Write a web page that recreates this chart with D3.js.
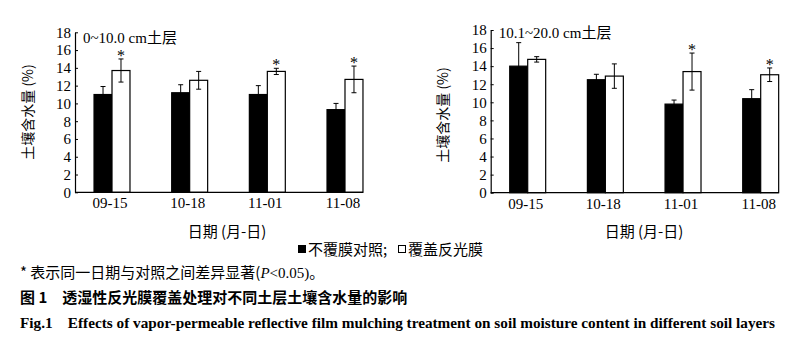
<!DOCTYPE html>
<html><head><meta charset="utf-8">
<script src="https://cdn.jsdelivr.net/npm/d3@7"></script>
<style>body{margin:0;background:#fff}svg{display:block}</style>
</head><body>
<svg id="c" width="800" height="344"></svg>
<script>
const dates = ["09-15","10-18","11-01","11-08"];
const yTicks = [0,2,4,6,8,10,12,14,16,18];
// Layer 0~10.0 cm
const ck1 = [11.0, 11.2, 11.0, 9.3];
const ck1Err = [0.9, 0.9, 1.0, 0.7];
const film1 = [13.7, 12.6, 13.6, 12.7];
const film1Err = [1.3, 1.0, 0.35, 1.5];
const sig1 = [true, false, true, true];
// Layer 10.1~20.0 cm
const ck2 = [14.0, 12.5, 9.8, 10.4];
const ck2Err = [2.6, 0.6, 0.45, 1.0];
const film2 = [14.75, 12.9, 13.4, 13.05];
const film2Err = [0.3, 1.35, 2.05, 0.75];
const sig2 = [false, false, true, true];

const svg = d3.select("#c");
const serif = "'Liberation Serif','DejaVu Serif',serif";
const cjk = "'Noto Sans CJK SC','Liberation Serif',serif";
const mixed = "'Liberation Serif','Noto Sans CJK SC',serif";

function panel(o){
  const g = svg.append("g");
  const y = d3.scaleLinear().domain([0,18]).range([o.y0, o.y1]);
  const x = d3.scaleBand().domain(dates).range([o.x0, o.x0 + 307]).paddingInner(0.537).paddingOuter(0.245);
  const sub = d3.scaleBand().domain(["ck","film"]).range([0, x.bandwidth()]);
  const series = [{k:"ck", v:o.ck, e:o.ckErr, fill:"#000"},{k:"film", v:o.film, e:o.filmErr, fill:"#fff"}];
  series.forEach(s=>{
    g.selectAll(null).data(dates).join("rect")
      .attr("x", d=>x(d)+sub(s.k)).attr("width", sub.bandwidth())
      .attr("y", (d,i)=>y(s.v[i])).attr("height",(d,i)=>y(0)-y(s.v[i]))
      .attr("fill", s.fill).attr("stroke","#000").attr("stroke-width",1.2);
    const cx = d=>x(d)+sub(s.k)+sub.bandwidth()/2;
    g.selectAll(null).data(dates).join("path")
      .attr("d",(d,i)=>{const c=cx(d),t=y(s.v[i]+s.e[i]),b=y(s.v[i]-s.e[i]);
        return `M${c},${t}V${b}M${c-2.5},${t}H${c+2.5}M${c-2.5},${b}H${c+2.5}`;})
      .attr("stroke","#000").attr("stroke-width",1).attr("fill","none");
  });
  // significance asterisks
  g.selectAll(null).data(dates.filter((d,i)=>o.sig[i])).join("text")
    .attr("x", d=>x(d)+sub("film")+sub.bandwidth()/2)
    .attr("y", d=>{const i=dates.indexOf(d);return y(o.film[i]+o.filmErr[i])+2;})
    .attr("text-anchor","middle").attr("font-family",serif).attr("font-size",16).text("*");
  // y axis
  const ya = g.append("g").attr("transform",`translate(${o.x0},0)`)
    .call(d3.axisLeft(y).tickValues(yTicks).tickSize(-3).tickPadding(4).tickSizeOuter(0));
  ya.attr("font-family",serif);
  ya.select(".domain").attr("stroke","#000").attr("stroke-width",1.2);
  ya.selectAll(".tick line").attr("stroke","#000");
  ya.selectAll("text").attr("font-family",serif).attr("font-size",15).attr("fill","#000");
  // x axis
  const xEnd = x(dates[dates.length-1]) + x.bandwidth();
  g.append("line").attr("x1",o.x0).attr("x2",xEnd).attr("y1",y(0)).attr("y2",y(0))
    .attr("stroke","#000").attr("stroke-width",1.2);
  g.selectAll(null).data(dates).join("text")
    .attr("x", d=>x(d)+x.bandwidth()/2-2).attr("y", y(0)+16)
    .attr("text-anchor","middle").attr("font-family",serif).attr("font-size",15).text(d=>d);
  // y label
  g.append("text").attr("transform",`translate(${o.ylx},${o.yly}) rotate(-90)`)
    .attr("text-anchor","middle").attr("dominant-baseline","central")
    .attr("font-family",cjk).attr("font-size",14).text("土壤含水量 (%)");
  // panel title
  g.append("text").attr("x",o.x0+8).attr("y",o.ty).attr("font-family",mixed).attr("font-size",15).text(o.title);
  // x label
  g.append("text").attr("x",o.xlx).attr("y",237).attr("text-anchor","middle")
    .attr("font-family",cjk).attr("font-size",15).text("日期 (月-日)");
}

panel({x0:75, y0:192.3, y1:32.3, ck:ck1, ckErr:ck1Err, film:film1, filmErr:film1Err, sig:sig1,
  title:"0~10.0 cm土层", ty:43, ylx:27, yly:112, xlx:227});
panel({x0:490.7, y0:192.7, y1:30, ck:ck2, ckErr:ck2Err, film:film2, filmErr:film2Err, sig:sig2,
  title:"10.1~20.0 cm土层", ty:38, ylx:442, yly:115, xlx:644});

// legend
const lg = svg.append("g");
lg.append("rect").attr("x",298).attr("y",245).attr("width",8).attr("height",8).attr("fill","#000");
lg.append("text").attr("x",308).attr("y",255).attr("font-family",cjk).attr("font-size",15).text("不覆膜对照;");
lg.append("rect").attr("x",398.5).attr("y",245.5).attr("width",7).attr("height",7).attr("fill","#fff").attr("stroke","#000");
lg.append("text").attr("x",408).attr("y",255).attr("font-family",cjk).attr("font-size",15).text("覆盖反光膜");

// notes
const fn = svg.append("text").attr("x",20).attr("y",278).attr("font-family",cjk).attr("font-size",15);
fn.append("tspan").text("* 表示同一日期与对照之间差异显著(");
fn.append("tspan").attr("font-family",serif).attr("font-style","italic").text("P");
fn.append("tspan").attr("font-family",serif).text("<0.05)");
fn.append("tspan").text("。");
svg.append("text").attr("x",20).attr("y",303).attr("font-family",cjk).attr("font-weight","bold").attr("font-size",15)
  .text("图 1\u2003透湿性反光膜覆盖处理对不同土层土壤含水量的影响");
svg.append("text").attr("x",20).attr("y",328).attr("font-family",serif).attr("font-weight","bold").attr("font-size",15)
  .attr("textLength",755).attr("lengthAdjust","spacingAndGlyphs")
  .text("Fig.1\u2003Effects of vapor-permeable reflective film mulching treatment on soil moisture content in different soil layers");
</script>
</body></html>
